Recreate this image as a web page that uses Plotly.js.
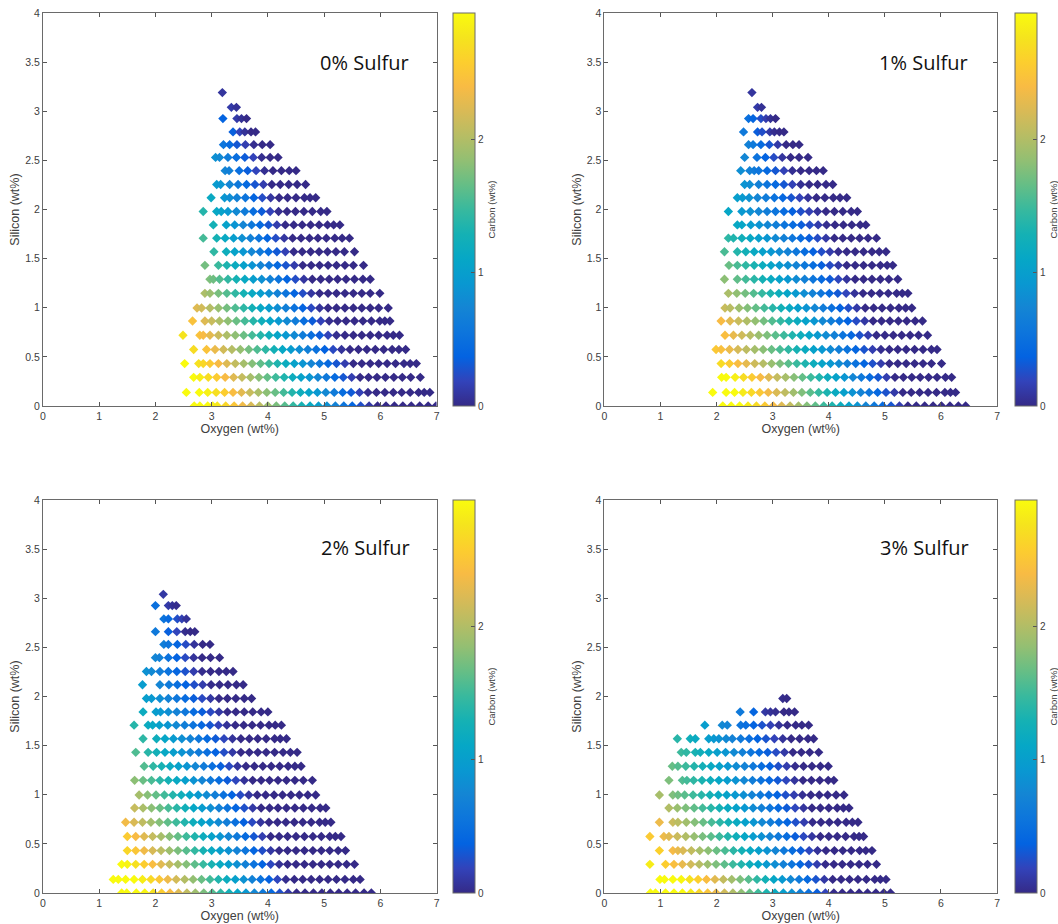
<!DOCTYPE html>
<html><head><meta charset="utf-8">
<script src="https://cdn.plot.ly/plotly-3.0.1.min.js"></script>
<style>html,body{margin:0;padding:0;background:#fff}#chart{width:1058px;height:924px}</style>
</head><body><div id="chart"></div>
<script>
// ---------------- DATA ----------------
const siRows = [0, 0.138, 0.292, 0.432, 0.575, 0.72, 0.865, 0.998, 1.147, 1.29, 1.432, 1.57, 1.708, 1.843, 1.98, 2.12, 2.255, 2.395, 2.53, 2.66, 2.79, 2.925, 3.04, 3.19];
const panelLabels = ['0% Sulfur', '1% Sulfur', '2% Sulfur', '3% Sulfur'];
const xTicks = [0, 1, 2, 3, 4, 5, 6, 7];
const yTicks = [0, 0.5, 1, 1.5, 2, 2.5, 3, 3.5, 4];
const carbonTicks = [0, 1, 2];

// 0% sulfur: oxygen per silicon row, and carbon of each point
const oxyS0 = [
[2.69,2.79,2.93,3.02,3.10,3.25,3.40,3.55,3.70,3.85,4.00,4.15,4.30,4.45,4.60,4.75,4.90,5.05,5.20,5.35,5.50,5.65,5.80,5.95,6.10,6.25,6.40,6.55,6.70,6.85,6.99],
[2.55,2.78,2.93,3.08,3.23,3.38,3.53,3.68,3.83,3.98,4.13,4.28,4.43,4.58,4.73,4.88,5.03,5.18,5.33,5.48,5.63,5.78,5.93,6.08,6.23,6.38,6.53,6.68,6.78,6.88],
[2.68,2.79,2.94,3.09,3.24,3.39,3.54,3.69,3.84,3.99,4.14,4.29,4.44,4.59,4.74,4.89,5.04,5.19,5.34,5.49,5.64,5.79,5.94,6.09,6.24,6.39,6.54,6.71],
[2.52,2.77,2.85,2.97,3.12,3.27,3.42,3.57,3.72,3.87,4.02,4.17,4.32,4.47,4.62,4.77,4.92,5.07,5.22,5.37,5.52,5.67,5.82,5.97,6.12,6.27,6.42,6.53,6.64],
[2.68,2.91,3.06,3.21,3.36,3.51,3.66,3.81,3.96,4.11,4.26,4.41,4.56,4.71,4.86,5.01,5.16,5.31,5.46,5.61,5.76,5.91,6.06,6.21,6.33,6.45],
[2.49,2.79,2.85,2.97,3.12,3.27,3.42,3.57,3.72,3.87,4.02,4.17,4.32,4.47,4.62,4.77,4.92,5.07,5.22,5.37,5.52,5.67,5.82,5.97,6.12,6.23,6.34],
[2.66,2.88,3.00,3.14,3.29,3.44,3.59,3.74,3.89,4.04,4.19,4.34,4.49,4.64,4.79,4.94,5.09,5.24,5.39,5.54,5.69,5.84,5.99,6.08,6.17],
[2.74,2.82,2.97,3.12,3.27,3.42,3.57,3.72,3.87,4.02,4.17,4.32,4.47,4.62,4.77,4.92,5.07,5.22,5.37,5.52,5.67,5.82,5.97,6.14],
[2.88,2.97,3.12,3.27,3.42,3.57,3.72,3.87,4.02,4.17,4.32,4.47,4.62,4.77,4.92,5.07,5.22,5.37,5.52,5.67,5.82,5.99],
[2.97,3.03,3.14,3.29,3.44,3.59,3.74,3.89,4.04,4.19,4.34,4.49,4.64,4.79,4.94,5.09,5.24,5.39,5.54,5.69,5.82],
[2.88,3.12,3.27,3.42,3.57,3.72,3.87,4.02,4.17,4.32,4.47,4.62,4.77,4.92,5.07,5.22,5.37,5.52,5.70],
[3.04,3.26,3.41,3.56,3.71,3.86,4.01,4.16,4.31,4.46,4.61,4.76,4.91,5.06,5.21,5.36,5.54],
[2.85,3.09,3.24,3.39,3.54,3.69,3.84,3.99,4.14,4.29,4.44,4.59,4.74,4.89,5.04,5.19,5.32,5.45],
[3.03,3.26,3.41,3.56,3.71,3.86,4.01,4.16,4.31,4.46,4.61,4.76,4.91,5.06,5.17,5.28],
[2.85,3.09,3.17,3.29,3.44,3.59,3.74,3.89,4.04,4.19,4.34,4.49,4.64,4.79,4.94,5.05],
[2.99,3.23,3.32,3.45,3.60,3.75,3.90,4.05,4.20,4.35,4.50,4.65,4.75,4.85],
[3.09,3.16,3.32,3.47,3.62,3.77,3.92,4.07,4.22,4.37,4.52,4.67],
[3.24,3.31,3.49,3.64,3.79,3.94,4.09,4.24,4.38,4.50],
[3.07,3.14,3.29,3.44,3.59,3.74,3.89,4.04,4.18],
[3.21,3.32,3.45,3.60,3.75,3.90,4.04],
[3.38,3.50,3.59,3.70,3.78],
[3.20,3.45,3.53,3.62],
[3.35,3.44],
[3.19]
];
const carbS0 = [
[2.95,2.95,2.95,2.88,2.80,2.65,2.50,2.35,2.20,2.05,1.90,1.75,1.60,1.45,1.30,1.15,1.00,0.85,0.70,0.55,0.40,0.25,0.10,0,0,0,0,0,0,0,0],
[2.95,2.95,2.87,2.72,2.57,2.42,2.27,2.12,1.97,1.82,1.67,1.52,1.37,1.22,1.07,0.92,0.77,0.62,0.47,0.32,0.17,0.02,0,0,0,0,0,0,0,0],
[2.95,2.85,2.70,2.55,2.40,2.25,2.10,1.95,1.80,1.65,1.50,1.35,1.20,1.05,0.90,0.75,0.60,0.45,0.30,0.15,0,0,0,0,0,0,0,0],
[2.95,2.74,2.66,2.54,2.39,2.24,2.09,1.94,1.79,1.64,1.49,1.34,1.19,1.04,0.89,0.74,0.59,0.44,0.29,0.14,0,0,0,0,0,0,0,0,0],
[2.70,2.47,2.32,2.17,2.02,1.87,1.72,1.57,1.42,1.27,1.12,0.97,0.82,0.67,0.52,0.37,0.22,0.07,0,0,0,0,0,0,0,0],
[2.76,2.46,2.40,2.28,2.13,1.98,1.83,1.68,1.53,1.38,1.23,1.08,0.93,0.78,0.63,0.48,0.33,0.18,0.03,0,0,0,0,0,0,0,0],
[2.46,2.24,2.12,1.98,1.83,1.68,1.53,1.38,1.23,1.08,0.93,0.78,0.63,0.48,0.33,0.18,0.03,0,0,0,0,0,0,0,0],
[2.25,2.17,2.02,1.87,1.72,1.57,1.42,1.27,1.12,0.97,0.82,0.67,0.52,0.37,0.22,0.07,0,0,0,0,0,0,0,0],
[1.98,1.89,1.74,1.59,1.44,1.29,1.14,0.99,0.84,0.69,0.54,0.39,0.24,0.09,0,0,0,0,0,0,0,0],
[1.76,1.70,1.59,1.44,1.29,1.14,0.99,0.84,0.69,0.54,0.39,0.24,0.09,0,0,0,0,0,0,0,0],
[1.72,1.48,1.33,1.18,1.03,0.88,0.73,0.58,0.43,0.28,0.13,0,0,0,0,0,0,0,0],
[1.43,1.21,1.06,0.91,0.76,0.61,0.46,0.31,0.16,0.01,0,0,0,0,0,0,0],
[1.53,1.29,1.14,0.99,0.84,0.69,0.54,0.39,0.24,0.09,0,0,0,0,0,0,0,0],
[1.27,1.04,0.89,0.74,0.59,0.44,0.29,0.14,0,0,0,0,0,0,0,0],
[1.37,1.13,1.05,0.93,0.78,0.63,0.48,0.33,0.18,0.03,0,0,0,0,0,0],
[1.15,0.91,0.82,0.69,0.54,0.39,0.24,0.09,0,0,0,0,0,0],
[0.97,0.90,0.74,0.59,0.44,0.29,0.14,0,0,0,0,0],
[0.74,0.67,0.49,0.34,0.19,0.04,0,0,0,0],
[0.85,0.78,0.63,0.48,0.33,0.18,0.03,0,0],
[0.55,0.45,0.30,0.15,0.03,0,0],
[0.35,0.18,0.06,0,0],
[0.38,0.12,0.05,0],
[0.12,0.06],
[0.08]
];

// 1% sulfur
const oxyS1 = [
[2.11,2.26,2.41,2.56,2.71,2.86,3.01,3.16,3.31,3.46,3.61,3.76,3.91,4.06,4.21,4.36,4.51,4.66,4.81,4.96,5.11,5.26,5.41,5.56,5.71,5.86,6.01,6.16,6.31,6.44],
[1.93,2.17,2.32,2.47,2.62,2.77,2.92,3.07,3.22,3.37,3.52,3.67,3.82,3.97,4.12,4.27,4.42,4.57,4.72,4.87,5.02,5.17,5.32,5.47,5.62,5.77,5.92,6.07,6.17,6.26],
[2.09,2.17,2.33,2.48,2.63,2.78,2.93,3.08,3.23,3.38,3.53,3.68,3.83,3.98,4.13,4.28,4.43,4.58,4.73,4.88,5.03,5.18,5.33,5.48,5.63,5.78,5.93,6.08,6.19],
[2.08,2.23,2.38,2.53,2.68,2.83,2.98,3.13,3.28,3.43,3.58,3.73,3.88,4.03,4.18,4.33,4.48,4.63,4.78,4.93,5.08,5.23,5.38,5.53,5.68,5.83,6.01],
[1.99,2.08,2.23,2.38,2.53,2.68,2.83,2.98,3.13,3.28,3.43,3.58,3.73,3.88,4.03,4.18,4.33,4.48,4.63,4.78,4.93,5.08,5.23,5.38,5.53,5.68,5.83,5.93],
[2.15,2.30,2.45,2.60,2.75,2.90,3.05,3.20,3.35,3.50,3.65,3.80,3.95,4.10,4.25,4.40,4.55,4.70,4.85,5.00,5.15,5.30,5.45,5.60,5.76],
[2.08,2.24,2.39,2.54,2.69,2.84,2.99,3.14,3.29,3.44,3.59,3.74,3.89,4.04,4.19,4.34,4.49,4.64,4.79,4.94,5.09,5.24,5.39,5.54,5.67],
[2.15,2.24,2.40,2.55,2.70,2.85,3.00,3.15,3.30,3.45,3.60,3.75,3.90,4.05,4.20,4.35,4.50,4.65,4.80,4.95,5.10,5.25,5.37,5.48],
[2.21,2.36,2.51,2.66,2.81,2.96,3.11,3.26,3.41,3.56,3.71,3.86,4.01,4.16,4.31,4.46,4.61,4.76,4.91,5.06,5.21,5.31,5.41],
[2.14,2.37,2.52,2.67,2.82,2.97,3.12,3.27,3.42,3.57,3.72,3.87,4.02,4.17,4.32,4.47,4.62,4.77,4.92,5.07,5.23],
[2.22,2.37,2.52,2.67,2.82,2.97,3.12,3.27,3.42,3.57,3.72,3.87,4.02,4.17,4.32,4.47,4.62,4.77,4.92,5.04,5.14],
[2.14,2.37,2.52,2.67,2.82,2.97,3.12,3.27,3.42,3.57,3.72,3.87,4.02,4.17,4.32,4.47,4.62,4.77,4.90,5.02],
[2.21,2.30,2.45,2.60,2.75,2.90,3.05,3.20,3.35,3.50,3.65,3.80,3.95,4.10,4.25,4.40,4.55,4.70,4.85],
[2.37,2.45,2.61,2.76,2.91,3.06,3.21,3.36,3.51,3.66,3.81,3.96,4.11,4.26,4.41,4.56,4.66],
[2.21,2.45,2.60,2.75,2.90,3.05,3.20,3.35,3.50,3.65,3.80,3.95,4.10,4.25,4.40,4.51],
[2.37,2.46,2.58,2.73,2.88,3.03,3.18,3.33,3.48,3.63,3.78,3.93,4.08,4.20,4.32],
[2.50,2.59,2.75,2.90,3.05,3.20,3.35,3.50,3.65,3.80,3.95,4.07],
[2.43,2.59,2.67,2.75,2.90,3.05,3.20,3.35,3.50,3.65,3.78,3.90],
[2.50,2.72,2.87,3.02,3.17,3.32,3.47,3.63],
[2.57,2.65,2.79,2.94,3.09,3.24,3.36,3.47],
[2.48,2.73,2.81,2.95,3.03,3.12,3.20],
[2.57,2.65,2.79,2.88,2.96,3.05],
[2.73,2.80],
[2.63]
];
const carbS1 = [
[2.95,2.95,2.95,2.84,2.69,2.54,2.39,2.24,2.09,1.94,1.79,1.64,1.49,1.34,1.19,1.04,0.89,0.74,0.59,0.44,0.29,0.14,0,0,0,0,0,0,0,0],
[2.95,2.95,2.95,2.82,2.67,2.52,2.37,2.22,2.07,1.92,1.77,1.62,1.47,1.32,1.17,1.02,0.87,0.72,0.57,0.42,0.27,0.12,0,0,0,0,0,0,0,0],
[2.95,2.95,2.85,2.70,2.55,2.40,2.25,2.10,1.95,1.80,1.65,1.50,1.35,1.20,1.05,0.90,0.75,0.60,0.45,0.30,0.15,0,0,0,0,0,0,0,0],
[2.69,2.56,2.42,2.29,2.15,2.02,1.88,1.75,1.61,1.48,1.34,1.21,1.07,0.94,0.80,0.67,0.53,0.40,0.26,0.13,0,0,0,0,0,0,0],
[2.52,2.45,2.32,2.19,2.06,1.94,1.81,1.68,1.55,1.43,1.30,1.17,1.04,0.92,0.79,0.66,0.54,0.41,0.28,0.15,0.03,0,0,0,0,0,0,0],
[2.43,2.30,2.16,2.03,1.89,1.76,1.62,1.49,1.35,1.22,1.08,0.95,0.81,0.68,0.54,0.41,0.27,0.14,0,0,0,0,0,0,0],
[2.40,2.26,2.12,1.99,1.85,1.72,1.58,1.45,1.31,1.18,1.04,0.91,0.77,0.64,0.50,0.37,0.23,0.10,0,0,0,0,0,0,0],
[2.12,2.04,1.90,1.78,1.65,1.52,1.39,1.27,1.14,1.01,0.88,0.76,0.63,0.50,0.37,0.25,0.12,0,0,0,0,0,0,0],
[1.97,1.84,1.72,1.59,1.46,1.33,1.21,1.08,0.95,0.82,0.70,0.57,0.44,0.31,0.19,0.06,0,0,0,0,0,0,0],
[1.82,1.64,1.52,1.40,1.28,1.16,1.04,0.92,0.80,0.68,0.56,0.44,0.32,0.20,0.08,0,0,0,0,0,0],
[1.67,1.55,1.43,1.31,1.19,1.07,0.95,0.83,0.71,0.59,0.47,0.35,0.23,0.11,0,0,0,0,0,0,0],
[1.55,1.37,1.26,1.15,1.03,0.92,0.81,0.70,0.58,0.47,0.36,0.25,0.13,0.02,0,0,0,0,0,0],
[1.42,1.35,1.24,1.13,1.01,0.90,0.79,0.68,0.56,0.45,0.34,0.23,0.11,0,0,0,0,0,0],
[1.14,1.09,0.97,0.87,0.76,0.66,0.55,0.45,0.34,0.24,0.13,0.03,0,0,0,0,0],
[1.10,0.94,0.85,0.75,0.65,0.55,0.46,0.36,0.26,0.16,0.07,0,0,0,0,0],
[1.01,0.95,0.86,0.74,0.63,0.52,0.41,0.29,0.18,0.07,0,0,0,0,0],
[0.89,0.82,0.68,0.55,0.43,0.30,0.17,0.04,0,0,0,0],
[0.82,0.69,0.62,0.55,0.43,0.30,0.17,0.04,0,0,0,0],
[0.75,0.53,0.38,0.23,0.08,0,0,0],
[0.69,0.61,0.45,0.29,0.12,0,0,0],
[0.60,0.34,0.25,0.11,0.03,0,0],
[0.50,0.40,0.24,0.14,0.05,0],
[0.12,0.05],
[0.08]
];

// 2% sulfur
const oxyS2 = [
[1.40,1.49,1.66,1.81,1.96,2.11,2.26,2.41,2.56,2.71,2.86,3.01,3.16,3.31,3.46,3.61,3.76,3.91,4.06,4.21,4.36,4.51,4.66,4.81,4.96,5.11,5.26,5.41,5.56,5.71,5.84],
[1.25,1.34,1.47,1.62,1.77,1.92,2.07,2.22,2.37,2.52,2.67,2.82,2.97,3.12,3.27,3.42,3.57,3.72,3.87,4.02,4.17,4.32,4.47,4.62,4.77,4.92,5.07,5.22,5.37,5.52,5.64],
[1.40,1.50,1.65,1.80,1.95,2.10,2.25,2.40,2.55,2.70,2.85,3.00,3.15,3.30,3.45,3.60,3.75,3.90,4.05,4.20,4.35,4.50,4.65,4.80,4.95,5.10,5.25,5.40,5.54],
[1.50,1.65,1.80,1.95,2.10,2.25,2.40,2.55,2.70,2.85,3.00,3.15,3.30,3.45,3.60,3.75,3.90,4.05,4.20,4.35,4.50,4.65,4.80,4.95,5.10,5.25,5.38],
[1.50,1.65,1.80,1.95,2.10,2.25,2.40,2.55,2.70,2.85,3.00,3.15,3.30,3.45,3.60,3.75,3.90,4.05,4.20,4.35,4.50,4.65,4.80,4.95,5.10,5.20,5.30],
[1.47,1.62,1.77,1.92,2.07,2.22,2.37,2.52,2.67,2.82,2.97,3.12,3.27,3.42,3.57,3.72,3.87,4.02,4.17,4.32,4.47,4.62,4.77,4.92,5.02,5.12],
[1.63,1.78,1.93,2.08,2.23,2.38,2.53,2.68,2.83,2.98,3.13,3.28,3.43,3.58,3.73,3.88,4.03,4.18,4.33,4.48,4.63,4.78,4.93,5.03],
[1.71,1.86,2.01,2.16,2.31,2.46,2.61,2.76,2.91,3.06,3.21,3.36,3.51,3.66,3.81,3.96,4.11,4.26,4.41,4.56,4.71,4.85],
[1.63,1.78,1.93,2.08,2.23,2.38,2.53,2.68,2.83,2.98,3.13,3.28,3.43,3.58,3.73,3.88,4.03,4.18,4.33,4.48,4.63,4.79],
[1.80,1.96,2.11,2.26,2.41,2.56,2.71,2.86,3.01,3.16,3.31,3.46,3.61,3.76,3.91,4.06,4.21,4.36,4.48,4.59],
[1.65,1.87,2.02,2.17,2.32,2.47,2.62,2.77,2.92,3.07,3.22,3.37,3.52,3.67,3.82,3.97,4.12,4.27,4.40,4.52],
[1.78,2.02,2.17,2.32,2.47,2.62,2.77,2.92,3.07,3.22,3.37,3.52,3.67,3.82,3.97,4.12,4.22,4.33],
[1.62,1.87,1.95,2.07,2.22,2.37,2.52,2.67,2.82,2.97,3.12,3.27,3.42,3.57,3.72,3.87,4.02,4.13,4.24],
[1.78,2.01,2.09,2.23,2.38,2.53,2.68,2.83,2.98,3.13,3.28,3.43,3.58,3.73,3.88,4.00],
[1.84,1.93,2.08,2.23,2.38,2.53,2.68,2.83,2.98,3.13,3.28,3.43,3.58,3.71],
[1.77,2.08,2.24,2.39,2.54,2.69,2.84,2.99,3.14,3.29,3.44,3.56],
[1.84,1.93,2.08,2.23,2.38,2.53,2.68,2.83,2.98,3.13,3.26,3.38],
[2.00,2.07,2.23,2.38,2.53,2.68,2.83,2.98,3.14],
[2.15,2.23,2.39,2.54,2.69,2.84,2.97],
[2.00,2.23,2.38,2.53,2.62,2.70],
[2.15,2.23,2.39,2.47,2.55],
[2.00,2.23,2.30,2.37],
[2.14]
];
const carbS2 = [
[2.95,2.95,2.95,2.90,2.74,2.57,2.41,2.24,2.08,1.91,1.75,1.58,1.42,1.25,1.09,0.92,0.76,0.59,0.43,0.26,0.10,0,0,0,0,0,0,0,0,0,0],
[2.95,2.95,2.95,2.95,2.84,2.67,2.51,2.34,2.18,2.01,1.85,1.68,1.52,1.35,1.19,1.02,0.86,0.69,0.53,0.36,0.20,0.03,0,0,0,0,0,0,0,0,0],
[2.95,2.89,2.73,2.57,2.42,2.26,2.10,1.94,1.79,1.63,1.47,1.31,1.16,1.00,0.84,0.68,0.53,0.37,0.21,0.05,0,0,0,0,0,0,0,0,0],
[2.65,2.50,2.35,2.20,2.05,1.90,1.75,1.60,1.45,1.30,1.15,1.00,0.85,0.70,0.55,0.40,0.25,0.10,0,0,0,0,0,0,0,0,0],
[2.55,2.40,2.25,2.10,1.95,1.80,1.65,1.50,1.35,1.20,1.05,0.90,0.75,0.60,0.45,0.30,0.15,0,0,0,0,0,0,0,0,0,0],
[2.36,2.21,2.07,1.93,1.79,1.64,1.50,1.36,1.22,1.07,0.93,0.79,0.65,0.50,0.36,0.22,0.08,0,0,0,0,0,0,0,0,0],
[2.11,1.97,1.82,1.68,1.54,1.40,1.25,1.11,0.97,0.83,0.68,0.54,0.40,0.26,0.11,0,0,0,0,0,0,0,0,0],
[1.94,1.80,1.65,1.51,1.37,1.23,1.08,0.94,0.80,0.66,0.51,0.37,0.23,0.09,0,0,0,0,0,0,0,0],
[1.82,1.68,1.55,1.41,1.28,1.14,1.01,0.87,0.74,0.60,0.47,0.33,0.20,0.06,0,0,0,0,0,0,0,0],
[1.58,1.43,1.30,1.16,1.03,0.89,0.76,0.62,0.49,0.35,0.22,0.08,0,0,0,0,0,0,0,0],
[1.57,1.39,1.26,1.13,1.00,0.88,0.75,0.62,0.49,0.37,0.24,0.11,0,0,0,0,0,0,0,0],
[1.42,1.22,1.09,0.96,0.83,0.71,0.58,0.45,0.32,0.20,0.07,0,0,0,0,0,0,0],
[1.38,1.18,1.12,1.02,0.90,0.78,0.66,0.54,0.42,0.30,0.18,0.06,0,0,0,0,0,0,0],
[1.18,0.99,0.93,0.82,0.70,0.58,0.46,0.34,0.22,0.10,0,0,0,0,0,0],
[1.01,0.94,0.82,0.70,0.58,0.46,0.34,0.22,0.10,0,0,0,0,0],
[0.98,0.74,0.61,0.49,0.37,0.25,0.13,0.01,0,0,0,0],
[0.86,0.78,0.65,0.53,0.40,0.27,0.14,0.02,0,0,0,0],
[0.75,0.68,0.52,0.37,0.22,0.07,0,0,0],
[0.66,0.57,0.40,0.23,0.07,0,0],
[0.60,0.35,0.19,0.02,0,0],
[0.54,0.44,0.25,0.16,0.06],
[0.50,0.12,0.06,0.02],
[0.10]
];

// 3% sulfur
const oxyS3 = [
[0.82,0.91,1.09,1.24,1.39,1.54,1.69,1.84,1.99,2.14,2.29,2.44,2.59,2.74,2.89,3.04,3.19,3.34,3.49,3.64,3.79,3.94,4.09,4.24,4.39,4.54,4.69,4.84,4.98,5.10],
[0.99,1.07,1.22,1.37,1.52,1.67,1.82,1.97,2.12,2.27,2.42,2.57,2.72,2.87,3.02,3.17,3.32,3.47,3.62,3.77,3.92,4.07,4.22,4.37,4.52,4.67,4.82,4.92,5.02],
[0.81,1.09,1.24,1.39,1.54,1.69,1.84,1.99,2.14,2.29,2.44,2.59,2.74,2.89,3.04,3.19,3.34,3.49,3.64,3.79,3.94,4.09,4.24,4.39,4.54,4.69,4.85],
[0.98,1.22,1.31,1.40,1.55,1.70,1.85,2.00,2.15,2.30,2.45,2.60,2.75,2.90,3.05,3.20,3.35,3.50,3.65,3.80,3.95,4.10,4.25,4.40,4.55,4.66,4.77],
[0.81,1.06,1.15,1.30,1.45,1.60,1.75,1.90,2.05,2.20,2.35,2.50,2.65,2.80,2.95,3.10,3.25,3.40,3.55,3.70,3.85,4.00,4.15,4.30,4.45,4.54,4.62],
[0.98,1.22,1.31,1.46,1.61,1.76,1.91,2.06,2.21,2.36,2.51,2.66,2.81,2.96,3.11,3.26,3.41,3.56,3.71,3.86,4.01,4.16,4.31,4.42,4.52],
[1.15,1.30,1.45,1.60,1.75,1.90,2.05,2.20,2.35,2.50,2.65,2.80,2.95,3.10,3.25,3.40,3.55,3.70,3.85,4.00,4.15,4.26,4.36],
[0.98,1.22,1.31,1.43,1.58,1.73,1.88,2.03,2.18,2.33,2.48,2.63,2.78,2.93,3.08,3.23,3.38,3.53,3.68,3.83,3.98,4.13,4.27],
[1.15,1.39,1.47,1.59,1.74,1.89,2.04,2.19,2.34,2.49,2.64,2.79,2.94,3.09,3.24,3.39,3.54,3.69,3.84,3.99,4.09],
[1.21,1.31,1.45,1.60,1.75,1.90,2.05,2.20,2.35,2.50,2.65,2.80,2.95,3.10,3.25,3.40,3.55,3.70,3.85,3.99],
[1.37,1.46,1.62,1.71,1.86,2.01,2.16,2.31,2.46,2.61,2.76,2.91,3.06,3.21,3.36,3.51,3.66,3.82],
[1.30,1.53,1.62,1.86,1.95,2.04,2.17,2.28,2.43,2.58,2.73,2.88,3.03,3.18,3.33,3.48,3.63,3.73],
[1.79,2.10,2.19,2.43,2.52,2.66,2.81,2.96,3.11,3.26,3.41,3.52,3.64],
[2.42,2.66,2.87,2.96,3.05,3.20,3.29,3.39],
[3.18,3.25]
];
const carbS3 = [
[2.95,2.95,2.95,2.95,2.95,2.82,2.65,2.49,2.32,2.16,1.99,1.83,1.66,1.50,1.33,1.17,1.00,0.84,0.67,0.51,0.34,0.18,0.01,0,0,0,0,0,0,0],
[2.95,2.95,2.95,2.92,2.75,2.59,2.42,2.26,2.09,1.93,1.76,1.60,1.43,1.27,1.10,0.94,0.77,0.61,0.44,0.28,0.11,0,0,0,0,0,0,0,0],
[2.83,2.57,2.44,2.30,2.17,2.03,1.90,1.76,1.63,1.49,1.36,1.22,1.09,0.95,0.82,0.68,0.55,0.41,0.28,0.14,0.01,0,0,0,0,0,0],
[2.60,2.39,2.30,2.22,2.09,1.95,1.82,1.68,1.55,1.41,1.28,1.14,1.01,0.87,0.74,0.60,0.47,0.33,0.20,0.06,0,0,0,0,0,0,0],
[2.54,2.33,2.25,2.13,2.00,1.87,1.74,1.62,1.49,1.36,1.23,1.11,0.98,0.85,0.72,0.60,0.47,0.34,0.21,0.09,0,0,0,0,0,0,0],
[2.33,2.13,2.05,1.92,1.79,1.67,1.54,1.41,1.28,1.16,1.03,0.90,0.77,0.65,0.52,0.39,0.26,0.14,0.01,0,0,0,0,0,0],
[2.00,1.88,1.76,1.64,1.52,1.40,1.28,1.16,1.04,0.92,0.80,0.68,0.56,0.44,0.32,0.20,0.08,0,0,0,0,0,0],
[1.95,1.77,1.70,1.61,1.50,1.39,1.28,1.16,1.05,0.94,0.83,0.71,0.60,0.49,0.38,0.26,0.15,0.04,0,0,0,0,0],
[1.76,1.58,1.52,1.43,1.32,1.21,1.10,0.98,0.87,0.76,0.65,0.53,0.42,0.31,0.20,0.08,0,0,0,0,0],
[1.67,1.59,1.49,1.37,1.26,1.15,1.04,0.92,0.81,0.70,0.59,0.47,0.36,0.25,0.14,0.02,0,0,0,0],
[1.49,1.43,1.31,1.24,1.13,1.01,0.90,0.79,0.68,0.56,0.45,0.34,0.23,0.11,0,0,0,0],
[1.39,1.23,1.16,0.99,0.93,0.87,0.78,0.70,0.60,0.49,0.39,0.28,0.18,0.07,0,0,0,0],
[0.99,0.77,0.71,0.54,0.48,0.38,0.27,0.17,0.06,0,0,0,0],
[0.60,0.40,0.10,0.06,0.03,0,0,0],
[0.02,0]
];

const oxygenPanels = [oxyS0, oxyS1, oxyS2, oxyS3];
const carbonPanels = [carbS0, carbS1, carbS2, carbS3];

// ---------------- STYLE / LAYOUT ----------------
const W = 1058, H = 924;
const parula = [
  [0.0000,'#352a87'],[0.0625,'#3243ba'],[0.1250,'#0363e1'],[0.1875,'#0d75dc'],
  [0.2500,'#1485d4'],[0.3125,'#0998d1'],[0.3750,'#06a7c6'],[0.4375,'#15b1b4'],
  [0.5000,'#38b99e'],[0.5625,'#65be86'],[0.6250,'#92bf73'],[0.6875,'#b7bd64'],
  [0.7500,'#d9ba56'],[0.8125,'#f8bb44'],[0.8750,'#fcce2e'],[0.9375,'#f5e41d'],
  [1.0000,'#f9fb0e']
];
const boxes = [
  {l:43,  r:437, t:13,  b:406, cb:453,  lx:318, ly:62},
  {l:605, r:998, t:13,  b:406, cb:1015, lx:878, ly:62},
  {l:43,  r:437, t:500, b:893, cb:453,  lx:319, ly:547},
  {l:605, r:998, t:500, b:893, cb:1015, lx:879, ly:547}
];
const textCol = '#404040', lineCol = '#6a6a6a';
const baseFont = 'Liberation Sans, Arial, Helvetica, sans-serif';

const traces = [];
const layout = {
  width: W, height: H,
  margin: {l:0, r:0, t:0, b:0},
  paper_bgcolor: '#ffffff', plot_bgcolor: '#ffffff',
  font: {family: baseFont, size: 10.5, color: textCol},
  showlegend: false,
  annotations: []
};

boxes.forEach((b, k) => {
  const xs = [], ys = [], cs = [];
  oxygenPanels[k].forEach((row, r) => {
    row.forEach((o, i) => { xs.push(o); ys.push(siRows[r]); cs.push(carbonPanels[k][r][i]); });
  });
  const sfx = k === 0 ? '' : String(k + 1);
  traces.push({
    type: 'scatter', mode: 'markers',
    x: xs, y: ys, xaxis: 'x' + sfx, yaxis: 'y' + sfx,
    hoverinfo: 'skip',
    marker: {
      symbol: 'diamond', size: 7.2, color: cs,
      colorscale: parula, cmin: 0, cmax: 2.95,
      line: {width: 0},
      showscale: true,
      colorbar: {
        x: b.cb / W, xanchor: 'left', xpad: 0,
        y: 1 - (b.t + b.b) / 2 / H, yanchor: 'middle', ypad: 0,
        len: (b.b - b.t) / H, lenmode: 'fraction',
        thickness: 22, thicknessmode: 'pixels',
        outlinewidth: 1, outlinecolor: lineCol,
        tickvals: carbonTicks, ticks: 'inside', ticklen: 4, tickcolor: '#555',
        tickfont: {size: 10, color: textCol},
        title: {text: 'Carbon (wt%)', side: 'right', font: {size: 9.5, color: textCol}}
      }
    }
  });
  const common = {
    ticks: 'inside', ticklen: 4, tickwidth: 1, tickcolor: '#555',
    showline: true, linecolor: lineCol, linewidth: 1, mirror: 'ticks',
    showgrid: false, zeroline: false, fixedrange: true,
    tickfont: {size: 10.5, color: textCol}
  };
  layout['xaxis' + sfx] = Object.assign({}, common, {
    domain: [b.l / W, b.r / W], anchor: 'y' + sfx,
    range: [0, 7], tickvals: xTicks,
    title: {text: 'Oxygen (wt%)', font: {size: 12.5, color: textCol}, standoff: 1}
  });
  layout['yaxis' + sfx] = Object.assign({}, common, {
    domain: [1 - b.b / H, 1 - b.t / H], anchor: 'x' + sfx,
    range: [0, 4], tickvals: yTicks,
    title: {text: 'Silicon (wt%)', font: {size: 12.5, color: textCol}, standoff: 2}
  });
  layout.annotations.push({
    xref: 'paper', yref: 'paper', x: b.lx / W, y: 1 - b.ly / H,
    xanchor: 'left', yanchor: 'middle', showarrow: false,
    text: panelLabels[k],
    font: {family: 'Open Sans, Noto Sans, sans-serif', size: 20, color: '#111111'}
  });
});

Plotly.newPlot('chart', traces, layout, {staticPlot: true, displayModeBar: false});
</script>
</body></html>
